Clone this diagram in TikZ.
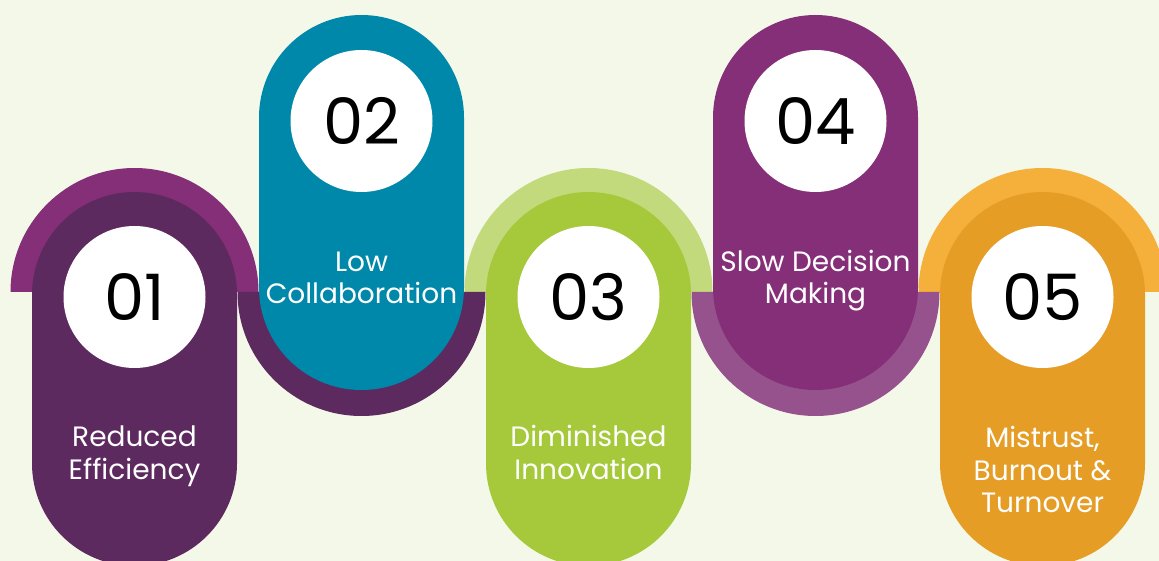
\documentclass[tikz,border=0pt]{standalone}
\usepackage{fontspec}
\setmainfont{Poppins}
\definecolor{bg}{HTML}{F4F8E9}
\definecolor{plumdark}{HTML}{5D2A5F}
\definecolor{plum}{HTML}{852F78}
\definecolor{plumlight}{HTML}{96528C}
\definecolor{teal}{HTML}{0088AA}
\definecolor{lime}{HTML}{A5C93A}
\definecolor{limelight}{HTML}{C2D97C}
\definecolor{amber}{HTML}{E59D26}
\definecolor{amberlight}{HTML}{F5B03B}
\newcommand\mypill[4]{\fill[#4] (#1-102.5,#2+102.5) arc[start angle=180,end angle=360,radius=102.5] -- (#1+102.5,#3-102.5) arc[start angle=0,end angle=180,radius=102.5] -- cycle;}
\newcommand\tophalf[2]{\fill[#2] (#1-124,292) arc[start angle=180,end angle=360,radius=124] -- cycle;}
\newcommand\bothalf[2]{\fill[#2] (#1+124,292) arc[start angle=0,end angle=180,radius=124] -- cycle;}
\tikzset{
  numcirc/.style={circle, fill=white, minimum size=142pt, inner sep=0pt, text=black, font=\fontsize{64}{64}\selectfont},
  lbl/.style={text=white, align=center, inner sep=0pt, font=\fontsize{28}{32.7}\selectfont}
}
\begin{document}
\begin{tikzpicture}[x=1pt,y=-1pt]
\clip (0,0) rectangle (1159,561);
\fill[bg] (0,0) rectangle (1159,561);
% outer halves
\tophalf{134.5}{plum}
\tophalf{588.5}{limelight}
\tophalf{1042.5}{amberlight}
\bothalf{361.5}{plumdark}
\bothalf{815.5}{plumlight}
% pills
\mypill{134.5}{192}{566}{plumdark}
\mypill{361.5}{15}{390}{teal}
\mypill{588.5}{192}{566}{lime}
\mypill{815.5}{15}{390}{plum}
\mypill{1042.5}{192}{566}{amber}
% number circles
\node[numcirc] (n1) at (134.5,297) {01};
\node[numcirc] (n2) at (361.5,121) {02};
\node[numcirc] (n3) at (588.5,297) {03};
\node[numcirc] (n4) at (815.5,121) {04};
\node[numcirc] (n5) at (1042.5,297) {05};
% labels (base = baseline of last line)
\node[lbl, anchor=base] (t1) at (134.5,479.5) {Reduced\\Efficiency};
\node[lbl, anchor=base] (t2) at (361.5,304) {Low\\Collaboration};
\node[lbl, anchor=base] (t3) at (588.5,479.5) {Diminished\\Innovation};
\node[lbl, anchor=base] (t4) at (815.5,304) {Slow Decision\\Making};
\node[lbl, anchor=base] (t5) at (1042.5,512.7) {Mistrust,\\Burnout \&\\Turnover};
\end{tikzpicture}
\end{document}
